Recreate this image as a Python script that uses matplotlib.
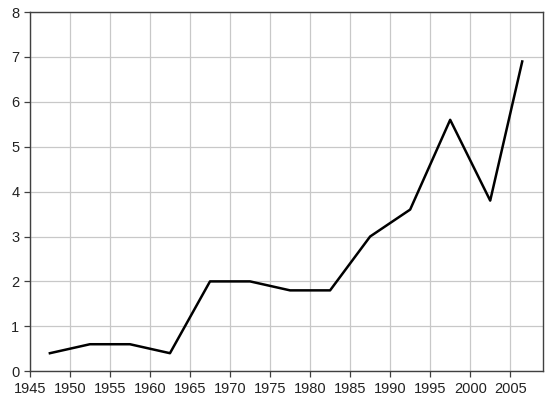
import matplotlib
matplotlib.use("Agg")
import matplotlib.pyplot as plt

# Datos
years = [1947.5, 1952.5, 1957.5, 1962.5, 1967.5, 1972.5, 1977.5,
         1982.5, 1987.5, 1992.5, 1997.5, 2002.5, 2006.5]
values = [0.4, 0.6, 0.6, 0.4, 2.0, 2.0, 1.8, 1.8, 3.0, 3.6, 5.6, 3.8, 6.9]
xticks = list(range(1945, 2010, 5))
yticks = list(range(0, 9))

plt.rcParams["font.family"] = ["Liberation Sans", "DejaVu Sans"]

fig = plt.figure(figsize=(5.53, 4.03), dpi=100)
ax = fig.add_axes([0.054, 0.079, 0.928, 0.891])

ax.plot(years, values, color="black", linewidth=1.8, zorder=3)

ax.set_xlim(1945, 2009.1)
ax.set_ylim(0, 8)
ax.set_xticks(xticks)
ax.set_yticks(yticks)
ax.grid(True, color="#c8c8c8", linewidth=0.9)
ax.set_axisbelow(True)

for s in ax.spines.values():
    s.set_color("#404040")
    s.set_linewidth(1.0)
ax.tick_params(axis="both", colors="#404040", labelcolor="#222222",
               labelsize=10.5, length=4, width=0.9, direction="out")

fig.savefig("out.png", dpi=100)
